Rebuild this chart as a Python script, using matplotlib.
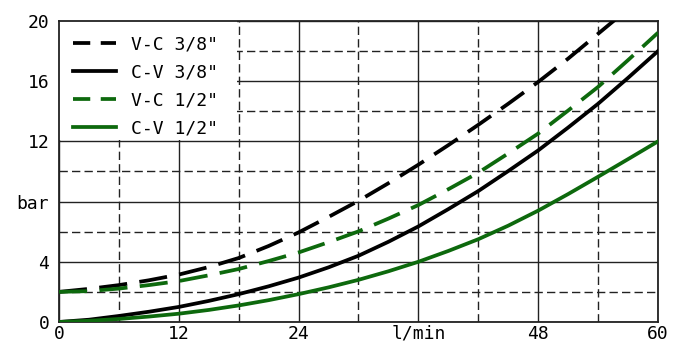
import matplotlib
matplotlib.use('Agg')
from matplotlib import pyplot as plt
from matplotlib.patches import Rectangle
from matplotlib.lines import Line2D

# flow (l/min) and pressure drop (bar)
flow = [0, 3, 6, 9, 12, 15, 18, 21, 24, 27, 30, 33, 36, 39, 42, 45, 48, 51, 54, 57, 60]
vc_38 = [2.0, 2.2, 2.45, 2.77, 3.15, 3.65, 4.25, 5.05, 5.95, 6.98, 8.05, 9.22, 10.45,
         11.75, 13.1, 14.5, 15.95, 17.5, 19.15, 20.8, 22.5]
cv_38 = [0, 0.15, 0.4, 0.68, 1.0, 1.4, 1.85, 2.37, 2.95, 3.63, 4.4, 5.33, 6.35,
         7.5, 8.7, 10.03, 11.4, 12.92, 14.5, 16.22, 18.0]
vc_12 = [2.0, 2.05, 2.22, 2.45, 2.72, 3.1, 3.52, 4.05, 4.62, 5.3, 6.02, 6.87, 7.77,
         8.82, 9.92, 11.2, 12.52, 14.05, 15.62, 17.4, 19.22]
cv_12 = [0, 0.08, 0.2, 0.36, 0.55, 0.8, 1.1, 1.45, 1.85, 2.3, 2.8, 3.37, 4.0,
         4.72, 5.5, 6.4, 7.4, 8.5, 9.65, 10.82, 12.0]

x_major = [0, 12, 24, 36, 48, 60]
x_labels = ['0', '12', '24', 'l/min', '48', '60']
y_major = [0, 4, 8, 12, 16, 20]
y_labels = ['0', '4', 'bar', '12', '16', '20']

green = '#0d690d'
font = 'DejaVu Sans Mono'
lw = 2.7

fig = plt.figure(figsize=(6.82, 3.44), dpi=100)
ax = fig.add_axes([0.0865, 0.064, 0.8783, 0.875])

ax.set_xlim(0, 60)
ax.set_ylim(0, 20)
ax.set_xticks(x_major)
ax.set_xticklabels(x_labels)
ax.set_yticks(y_major)
ax.set_yticklabels(y_labels)
ax.set_xticks(range(6, 60, 12), minor=True)
ax.set_yticks(range(2, 20, 4), minor=True)
ax.tick_params(which='both', length=0)
ax.tick_params(axis='x', pad=2, labelsize=13)
ax.tick_params(axis='y', pad=7, labelsize=13)
for lab in ax.get_xticklabels() + ax.get_yticklabels():
    lab.set_family(font)

ax.set_axisbelow(True)
ax.grid(which='major', color='#222222', linewidth=1.0, linestyle='-')
ax.grid(which='minor', color='#222222', linewidth=1.0, linestyle=(0, (6, 3)))

for s in ax.spines.values():
    s.set_linewidth(1.3)
    s.set_color('#222222')

# white area behind the legend
ax.add_patch(Rectangle((0, 12.1), 17.85, 7.9, facecolor='white', edgecolor='none', zorder=1))

ax.plot(flow, vc_38, color='black', lw=lw, dashes=(7.5, 3.3), zorder=3)
ax.plot(flow, cv_38, color='black', lw=lw, zorder=3)
ax.plot(flow, vc_12, color=green, lw=lw, dashes=(7.5, 3.3), zorder=3)
ax.plot(flow, cv_12, color=green, lw=lw, zorder=3)

handles = [
    Line2D([], [], color='black', lw=lw, dashes=(4.6, 2.8)),
    Line2D([], [], color='black', lw=lw),
    Line2D([], [], color=green, lw=lw, dashes=(4.6, 2.8)),
    Line2D([], [], color=green, lw=lw),
]
labels = ['V-C 3/8"', 'C-V 3/8"', 'V-C 1/2"', 'C-V 1/2"']
ax.legend(handles, labels, loc='upper left', bbox_to_anchor=(0.0, 1.0), frameon=False,
          prop={'family': font, 'size': 13}, handlelength=2.35,
          handletextpad=0.85, labelspacing=0.55, borderaxespad=0.4)

fig.savefig('out.png', dpi=100)
